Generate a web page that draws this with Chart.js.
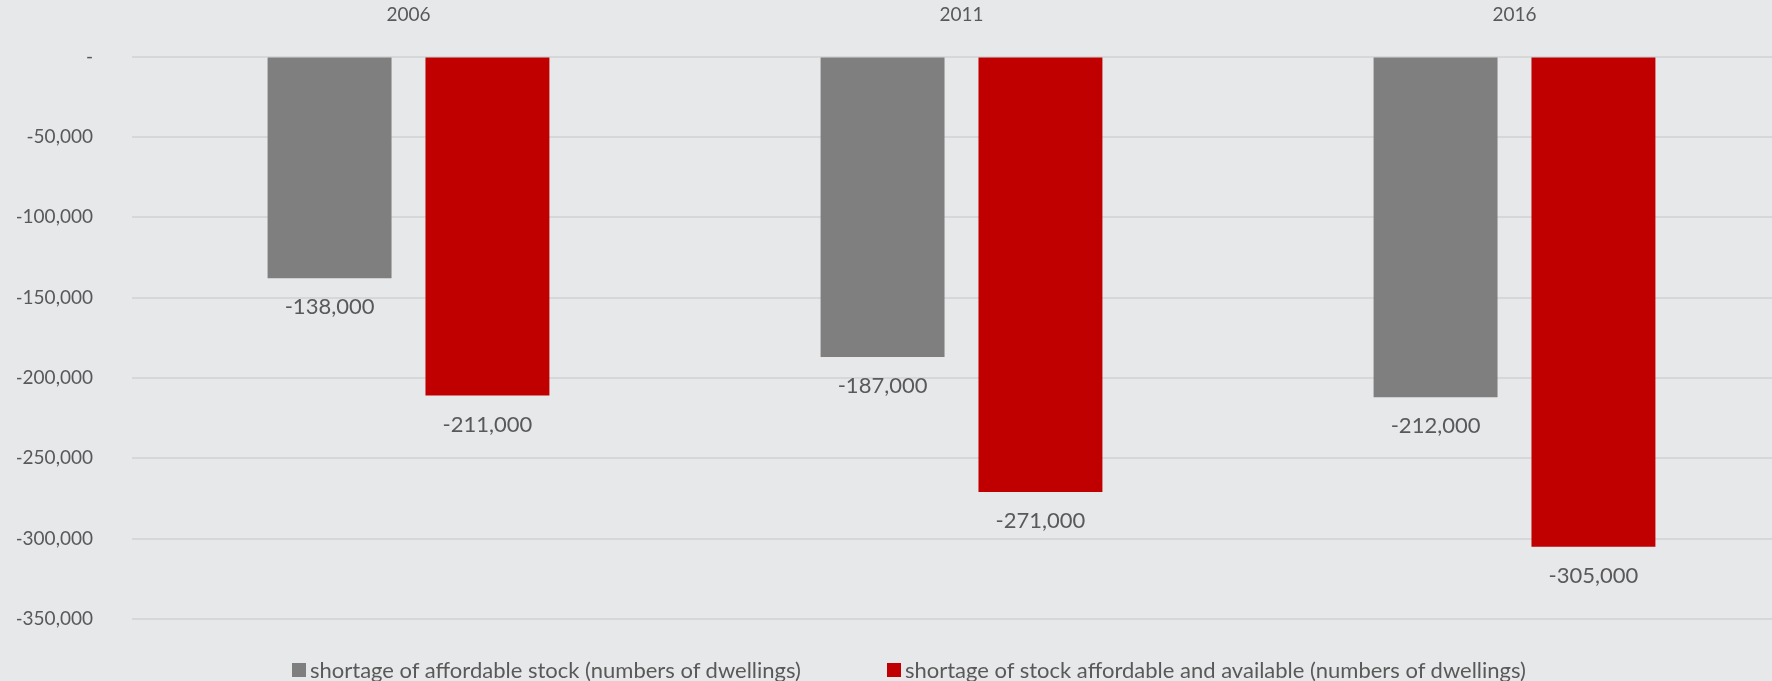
<!DOCTYPE html>
<html lang="en">
  <head>
    <meta charset="UTF-8">
    <title>Housing shortage</title>
    <script src="https://cdn.jsdelivr.net/npm/chart.js"></script>
    <style>
      html, body { margin: 0; padding: 0; overflow: hidden; background: #e7e8ea; }
      #wrap { position: relative; width: 1830px; height: 681px; }
      #legend {
        position: absolute; left: 292px; top: 656px;
        display: flex; align-items: center;
        font-family: Lato, 'Open Sans', sans-serif; font-size: 22px; color: #595959;
        white-space: nowrap; line-height: 28px;
      }
      #legend .item { display: flex; align-items: center; }
      #legend .box { width: 14px; height: 14px; margin-right: 4px; }
    </style>
  </head>
  <body>
    <div id="wrap">
      <canvas id="Chart" width="1830" height="681"></canvas>
      <div id="legend"></div>
    </div>
    <script>
      var years = ["2006", "2011", "2016"];
      var affordable = [-138000, -187000, -212000];
      var available = [-211000, -271000, -305000];
      var seriesNames = [
        "shortage of affordable stock (numbers of dwellings)",
        "shortage of stock affordable and available (numbers of dwellings)"
      ];
      var seriesColors = ["#7f7f7f", "#c00000"];
      var yTicks = [0, -50000, -100000, -150000, -200000, -250000, -300000, -350000];

      var textColor = "#595959";
      var fontFamily = "Lato, 'Open Sans', sans-serif";

      function fmt(v) {
        return v === 0 ? "-" : v.toLocaleString("en-US");
      }

      // labels under each bar end
      var barLabels = {
        id: "barLabels",
        afterDatasetsDraw(chart) {
          const ctx = chart.ctx;
          ctx.save();
          ctx.fillStyle = textColor;
          ctx.font = "22px " + fontFamily;
          ctx.textAlign = "center";
          ctx.textBaseline = "middle";
          chart.data.datasets.forEach((ds, i) => {
            chart.getDatasetMeta(i).data.forEach((bar, j) => {
              ctx.fillText(fmt(ds.data[j]), bar.x, bar.y + 29);
            });
          });
          ctx.restore();
        }
      };

      var chart = new Chart("Chart", {
        type: "bar",
        data: {
          labels: years,
          datasets: seriesNames.map((name, i) => ({
            label: name,
            data: i === 0 ? affordable : available,
            backgroundColor: seriesColors[i],
            categoryPercentage: 0.571,
            barPercentage: 0.785
          }))
        },
        options: {
          responsive: false,
          animation: false,
          layout: { padding: { left: 17, right: 39, top: 0, bottom: 62 } },
          scales: {
            x: {
              position: "top",
              grid: { display: false },
              border: { display: false },
              ticks: { color: textColor, font: { family: fontFamily, size: 19 }, padding: 22 },
              afterFit(scale) { scale.height = 56.5; }
            },
            y: {
              min: -350000,
              max: 0,
              afterBuildTicks(scale) { scale.ticks = yTicks.map(v => ({ value: v })); },
              grid: { color: "#d6d7d9", lineWidth: 2, drawTicks: false },
              border: { display: false },
              ticks: {
                color: textColor,
                font: { family: fontFamily, size: 19 },
                padding: 39,
                callback: v => fmt(v)
              },
              afterFit(scale) { scale.width = 115; }
            }
          },
          plugins: {
            legend: { display: false },
            tooltip: { enabled: false }
          }
        },
        plugins: [barLabels]
      });

      // html legend
      var legend = document.getElementById("legend");
      chart.data.datasets.forEach((ds, i) => {
        const item = document.createElement("div");
        item.className = "item";
        if (i > 0) item.style.marginLeft = "86px";
        const box = document.createElement("span");
        box.className = "box";
        box.style.background = ds.backgroundColor;
        const txt = document.createElement("span");
        txt.textContent = ds.label;
        item.appendChild(box);
        item.appendChild(txt);
        legend.appendChild(item);
      });
    </script>
  </body>
</html>
